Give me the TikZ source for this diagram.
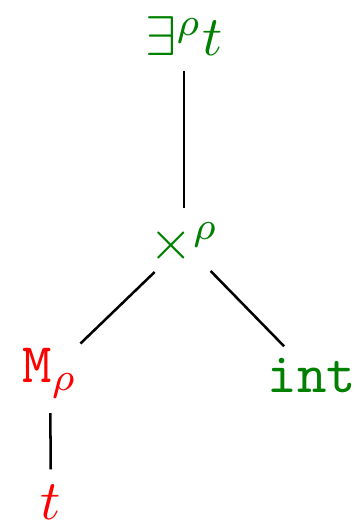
\documentclass[tikz,border=0pt]{standalone}
\usepackage{xcolor}
\usepackage{tikz}
\usetikzlibrary{positioning}
\definecolor{kindgreen}{RGB}{0,128,0}

\begin{document}
\begin{tikzpicture}[
    x=0.1786pt, y=-0.1786pt,
    good/.style={text=kindgreen, inner sep=2.5pt, anchor=base},
    bad/.style={text=red, inner sep=2.5pt, anchor=base},
    branch/.style={black, line width=0.45pt}
]
\useasboundingbox (0,0) rectangle (362,522);

% root and product
\node[good] (exists) at (184,56) {$\exists^{\rho} t$};
\node[good] (times) at (184,260) {$\times^{\rho}$};

% children
\node[bad] (mono) at (50,382) {$\mathtt{M}_{\rho}$};
\node[good] (int) at (312,392) {$\mathtt{int}$};
\node[bad] (var) at (51,519) {$t$};

% branches
\draw[branch] (exists) -- (times);
\draw[branch, shorten <=-2pt, shorten >=-2.8pt] (times) -- (mono);
\draw[branch, shorten <=-2.2pt, shorten >=-0.9pt] (times) -- (int);
\draw[branch] (mono) -- (var);

\end{tikzpicture}
\end{document}
